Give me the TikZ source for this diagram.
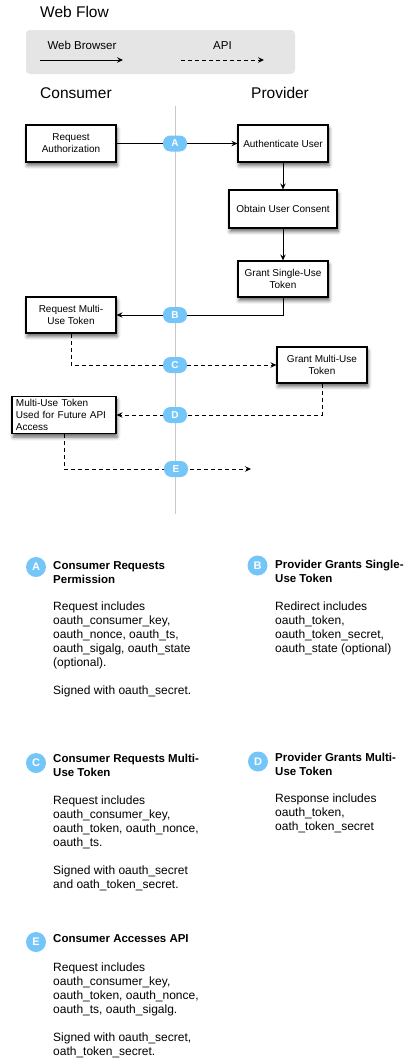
\documentclass[tikz,border=0pt]{standalone}
\usepackage{fontspec}
\setmainfont{Liberation Sans}
\usetikzlibrary{arrows.meta,shadows.blur}
\definecolor{badge}{HTML}{74C6F8}
\definecolor{legendgray}{HTML}{E5E5E5}
\definecolor{lanegray}{HTML}{C8C8C8}
\begin{document}
\begin{tikzpicture}[x=1pt,y=-1pt,
  stepbox/.style={draw=black,line width=1.2pt,fill=white,align=center,
    font=\fontsize{10}{12}\selectfont,inner sep=2pt,
    blur shadow={shadow xshift=1pt,shadow yshift=-3.5pt,shadow blur radius=3.5pt,shadow opacity=60}},
  conn/.style={line width=0.9pt,-{Stealth[length=6pt,width=5.5pt,inset=2.2pt]}},
  apiconn/.style={conn,dash pattern=on 4pt off 3pt},
  pill/.style={fill=badge,rounded corners=7.5pt,minimum width=24pt,minimum height=16pt,
    inner sep=0pt,text=white,font=\fontsize{10}{12}\selectfont\bfseries},
  dot/.style={circle,fill=badge,minimum size=20pt,inner sep=0pt,text=white,
    font=\fontsize{11}{12}\selectfont\bfseries},
  heading/.style={anchor=base west,font=\fontsize{15.5}{18}\selectfont,inner sep=0pt},
  legendlabel/.style={anchor=base,font=\fontsize{11.5}{14}\selectfont,inner sep=0pt},
  notetitle/.style={anchor=north west,align=left,inner sep=0pt,font=\fontsize{11.5}{14}\selectfont\bfseries},
  notebody/.style={anchor=north west,align=left,inner sep=0pt,font=\fontsize{12}{14}\selectfont}]
\useasboundingbox (0,0) rectangle (419,1058);

% headings and legend
\node[heading] (title) at (40,17) {Web Flow};
\node[fill=legendgray,rounded corners=4pt,minimum width=269pt,minimum height=44pt,inner sep=0pt] (legend) at (160.5,52) {};
\node[legendlabel] (wblabel) at (82,49) {Web Browser};
\node[legendlabel] (apilabel) at (222.5,49) {API};
\coordinate (wb1) at (40,60);
\coordinate (wb2) at (123,60);
\coordinate (api1) at (181,60);
\coordinate (api2) at (264,60);
\draw[conn] (wb1) -- (wb2);
\draw[apiconn] (api1) -- (api2);
\node[heading] (consumer) at (40,98) {Consumer};
\node[heading] (provider) at (251,98) {Provider};

% lane line
\coordinate (laneTop) at (175,106);
\coordinate (laneBot) at (175,514);
\draw[lanegray,line width=1pt] (laneTop) -- (laneBot);

% boxes
\node[stepbox,minimum width=90pt,minimum height=37pt] (ra) at (71,143.5) {Request\\Authorization};
\node[stepbox,minimum width=90pt,minimum height=37pt] (au) at (283,143.5) {Authenticate User};
\node[stepbox,minimum width=108pt,minimum height=38pt] (oc) at (283,209) {Obtain User Consent};
\node[stepbox,minimum width=90pt,minimum height=36pt] (gs) at (283,279) {Grant Single-Use\\Token};
\node[stepbox,minimum width=90pt,minimum height=36pt] (rm) at (71,315) {Request Multi-\\Use Token};
\node[stepbox,minimum width=90pt,minimum height=36pt] (gm) at (322,365) {Grant Multi-Use\\Token};
\node[stepbox,minimum width=104pt,minimum height=36pt,align=left,text width=96pt,inner sep=3pt] (mu) at (64,415) {Multi-Use Token\\Used for Future API\\Access};
\coordinate (eend) at (251,469);

% connectors
\draw[conn] (ra) -- (au);
\draw[conn] (au) -- (oc);
\draw[conn] (oc) -- (gs);
\draw[conn] (gs.south) |- (rm.east);
\draw[apiconn] (rm.south) |- (gm.west);
\draw[apiconn] (gm.south) |- (mu.east);
\draw[apiconn] (mu.south) |- (eend);

% badges
\node[pill] (pa) at (175,143.5) {A};
\node[pill] (pb) at (175,315) {B};
\node[pill] (pc) at (175,365) {C};
\node[pill] (pd) at (175,415) {D};
\node[pill] (pe) at (176,469) {E};

% notes
\node[dot] (da) at (36,567) {A};
\node[notetitle] (ta) at (53,561) {Consumer Requests\\Permission};
\node[notebody] (ba) at (53,602) {Request includes\\oauth\_consumer\_key,\\oauth\_nonce, oauth\_ts,\\oauth\_sigalg, oauth\_state\\(optional).\\[14pt]Signed with oauth\_secret.};

\node[dot] (db) at (257.5,565.5) {B};
\node[notetitle] (tb) at (275,560) {Provider Grants Single-\\Use Token};
\node[notebody] (bb) at (275,601.5) {Redirect includes\\oauth\_token,\\oauth\_token\_secret,\\oauth\_state (optional)};

\node[dot] (dc) at (36,763) {C};
\node[notetitle] (tc) at (53,754) {Consumer Requests Multi-\\Use Token};
\node[notebody] (bc) at (53,796) {Request includes\\oauth\_consumer\_key,\\oauth\_token, oauth\_nonce,\\oauth\_ts.\\[14pt]Signed with oauth\_secret\\and oath\_token\_secret.};

\node[dot] (dd) at (258,761.5) {D};
\node[notetitle] (td) at (275,752.5) {Provider Grants Multi-\\Use Token};
\node[notebody] (bd) at (275,793.5) {Response includes\\oauth\_token,\\oath\_token\_secret};

\node[dot] (de) at (36,942) {E};
\node[notetitle] (te) at (53,934.5) {Consumer Accesses API};
\node[notebody] (be) at (53,962.5) {Request includes\\oauth\_consumer\_key,\\oauth\_token, oauth\_nonce,\\oauth\_ts, oauth\_sigalg.\\[14pt]Signed with oauth\_secret,\\oath\_token\_secret.};
\end{tikzpicture}
\end{document}
